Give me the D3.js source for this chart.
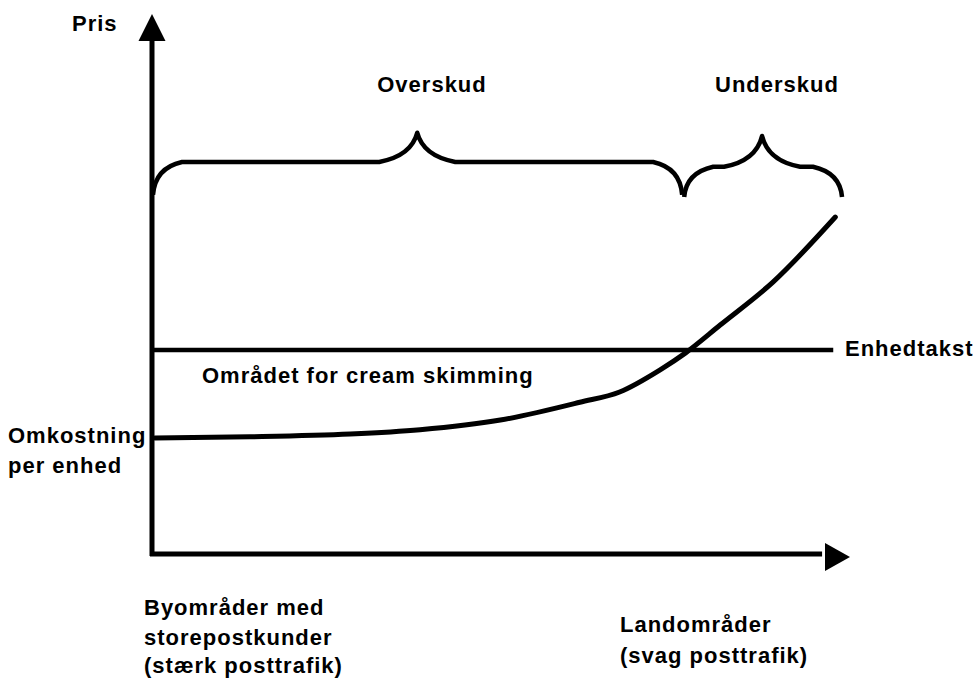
<!DOCTYPE html>
<html>
<head>
<meta charset="utf-8">
<script src="https://cdn.jsdelivr.net/npm/d3@7"></script>
<style>
  body { margin: 0; background: #fff; }
  text { font-family: "Liberation Sans", Arial, sans-serif; font-weight: bold; fill: #000; }
</style>
</head>
<body>
<div id="chart"></div>
<script>
// position along the x axis (0 = byområder, 100 = landområder) and price (0..100)
const costX = [0.4, 14, 28.4, 38.4, 49.9, 61.3, 67, 72.8, 76.4, 81.4, 89, 97.9]
const costY = [21.5, 21.7, 22.2, 23, 24.8, 28.1, 30, 34.1, 37.2, 42.4, 50.4, 62.4]

const tariffPrice = 37.8
const tariffEnd = 97.6

// braces: start, middle (hump), end, level, hump top, tips
const braceNames = ["Overskud", "Underskud"]
const braceStart = [0, 76.1]
const braceMid = [38, 87.4]
const braceEnd = [76.1, 99]
const braceLevel = [72.6, 71.7]
const braceTop = [78, 77.4]
const braceTip = [66.5, 66.1]

const width = 973, height = 682

const svg = d3.select('#chart')
    .append('svg')
        .attr('width', width)
        .attr('height', height)

const x = d3.scaleLinear().domain([0, 100]).range([152, 850])
const y = d3.scaleLinear().domain([0, 100]).range([554, 14])

// axes with arrow heads
svg.append('line')
    .attr('x1', x(0)).attr('y1', y(0) + 2)
    .attr('x2', x(0)).attr('y2', y(95))
    .attr('stroke', '#000').attr('stroke-width', 5)
svg.append('line')
    .attr('x1', x(0) - 2).attr('y1', y(0))
    .attr('x2', x(96)).attr('y2', y(0))
    .attr('stroke', '#000').attr('stroke-width', 5)

svg.append('path')
    .attr('d', `M${x(0)},${y(100)} L${x(0) - 13.5},${y(100) + 27} L${x(0) + 13.5},${y(100) + 27} Z`)
    .attr('fill', '#000')
svg.append('path')
    .attr('d', `M${x(100)},${y(0) + 3} L${x(100) - 25},${y(0) - 11} L${x(100) - 25},${y(0) + 17} Z`)
    .attr('fill', '#000')

// unit tariff line
svg.append('line')
    .attr('x1', x(0)).attr('y1', y(tariffPrice))
    .attr('x2', x(tariffEnd)).attr('y2', y(tariffPrice))
    .attr('stroke', '#000').attr('stroke-width', 4.5)

// cost per unit curve
const line = d3.line()
    .x(d => x(d[0]))
    .y(d => y(d[1]))
    .curve(d3.curveMonotoneX)

svg.append('path')
    .datum(d3.zip(costX, costY))
    .attr('d', line)
    .attr('fill', 'none')
    .attr('stroke', '#000')
    .attr('stroke-width', 5)
    .attr('stroke-linecap', 'round')

// braces
braceNames.forEach((name, i) => {
    const x0 = x(braceStart[i]), xm = x(braceMid[i]), x1 = x(braceEnd[i])
    const yl = y(braceLevel[i]), yt = y(braceTop[i]), yb = y(braceTip[i])
    const r = 30
    const p = d3.path()
    p.moveTo(x0 + 1, yb)
    p.quadraticCurveTo(x0 + 3, yl + 6, x0 + r, yl)
    p.lineTo(xm - r - 8, yl)
    p.quadraticCurveTo(xm - 6, yl - 6, xm, yt)
    p.quadraticCurveTo(xm + 6, yl - 6, xm + r + 8, yl)
    p.lineTo(x1 - r, yl)
    p.quadraticCurveTo(x1 - 3, yl + 6, x1 - 1, yb)
    svg.append('path')
        .attr('d', p.toString())
        .attr('fill', 'none')
        .attr('stroke', '#000')
        .attr('stroke-width', 4.5)
        .attr('stroke-linejoin', 'round')
})

// texts
function label(tx, ty, str, anchor) {
    svg.append('text')
        .attr('x', tx).attr('y', ty)
        .attr('text-anchor', anchor || 'start')
        .attr('font-size', 22)
        .attr('letter-spacing', 1)
        .text(str)
}

label(72, 31, "Pris")
label(432, 92, "Overskud", 'middle')
label(777, 92, "Underskud", 'middle')
label(845, 356, "Enhedtakst")
label(202, 383, "Området for cream skimming")
label(8, 443, "Omkostning")
label(8, 473, "per enhed")
label(144, 615, "Byområder med")
label(144, 645, "storepostkunder")
label(144, 673, "(stærk posttrafik)")
label(620, 632, "Landområder")
label(620, 663, "(svag posttrafik)")
</script>
</body>
</html>
